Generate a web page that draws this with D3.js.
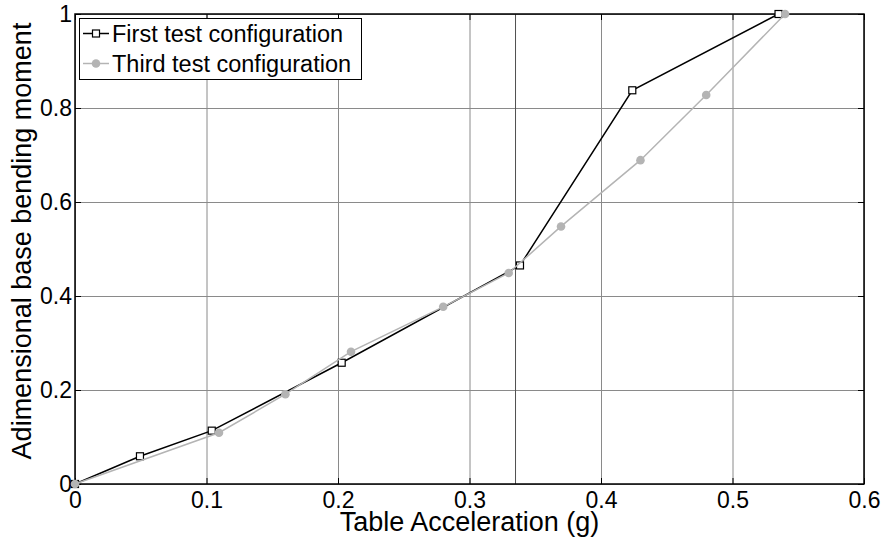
<!DOCTYPE html>
<html lang="en">
    <head>
        <meta charset="utf-8">
        <title>Base bending moment vs table acceleration</title>
        <script type="text/javascript" src="https://cdn.jsdelivr.net/npm/d3@7/dist/d3.min.js"></script>
        <style type="text/css">
            body { margin: 0; background: #fff; }
            svg { display: block; font-family: "Liberation Sans", Arial, sans-serif; }
            .grid line { stroke: #8a8a8a; stroke-width: 1; }
            .grid path { display: none; }
            .axis path { display: none; }
            .axis line { stroke: #000; }
            .axis text { font-size: 23px; fill: #000; }
        </style>
    </head>
    <body>
        <script type="text/javascript">
            //Chart size
            var w = 883;
            var h = 542;
            var margin = {top: 14, right: 19, bottom: 58, left: 75};

            //Data
            var firstX = [0, 0.0494, 0.104, 0.2028, 0.3384, 0.4238, 0.535];
            var firstY = [0, 0.059, 0.1135, 0.258, 0.465, 0.8377, 1];
            var thirdX = [0, 0.1095, 0.160, 0.2099, 0.280, 0.3298, 0.3696, 0.430, 0.480, 0.540];
            var thirdY = [0, 0.109, 0.191, 0.2815, 0.377, 0.449, 0.548, 0.689, 0.8277, 1];
            var xTicks = [0, 0.1, 0.2, 0.3, 0.4, 0.5, 0.6];
            var yTicks = [0, 0.2, 0.4, 0.6, 0.8, 1];
            var extraLineX = 0.335; //the darker vertical line
            var seriesNames = ["First test configuration", "Third test configuration"];

            var first = firstX.map(function(x, i) { return [x, firstY[i]]; });
            var third = thirdX.map(function(x, i) { return [x, thirdY[i]]; });

            var svg = d3.select("body")
                        .append("svg")
                        .attr("width", w)
                        .attr("height", h);

            //Scales
            var xScale = d3.scaleLinear()
                            .domain([0, 0.6])
                            .range([margin.left, w - margin.right]);
            var yScale = d3.scaleLinear()
                            .domain([0, 1])
                            .range([h - margin.bottom, margin.top]);

            var fmt = function(d) { return String(+d.toFixed(1)); };

            //Grid lines
            svg.append("g")
                .attr("class", "grid")
                .attr("transform", "translate(0," + yScale(0) + ")")
                .call(d3.axisBottom(xScale).tickValues(xTicks).tickSize(-(yScale(0) - yScale(1))).tickFormat(""));
            svg.append("g")
                .attr("class", "grid")
                .attr("transform", "translate(" + xScale(0) + ",0)")
                .call(d3.axisLeft(yScale).tickValues(yTicks).tickSize(-(xScale(0.6) - xScale(0))).tickFormat(""));

            //Extra darker vertical line
            svg.append("line")
                .attr("x1", xScale(extraLineX))
                .attr("x2", xScale(extraLineX))
                .attr("y1", yScale(0))
                .attr("y2", yScale(1))
                .attr("stroke", "#505050")
                .attr("stroke-width", 1);

            //Axes with inward ticks
            svg.append("g")
                .attr("class", "axis")
                .attr("transform", "translate(0," + yScale(0) + ")")
                .call(d3.axisBottom(xScale).tickValues(xTicks).tickSizeInner(-6).tickSizeOuter(0).tickPadding(8).tickFormat(fmt));
            svg.append("g")
                .attr("class", "axis")
                .attr("transform", "translate(0," + yScale(1) + ")")
                .call(d3.axisTop(xScale).tickValues(xTicks).tickSizeInner(-6).tickSizeOuter(0).tickFormat(""));
            svg.append("g")
                .attr("class", "axis")
                .attr("transform", "translate(" + xScale(0) + ",0)")
                .call(d3.axisLeft(yScale).tickValues(yTicks).tickSizeInner(-6).tickSizeOuter(0).tickPadding(3).tickFormat(fmt));
            svg.append("g")
                .attr("class", "axis")
                .attr("transform", "translate(" + xScale(0.6) + ",0)")
                .call(d3.axisRight(yScale).tickValues(yTicks).tickSizeInner(-6).tickSizeOuter(0).tickFormat(""));

            //Box
            svg.append("rect")
                .attr("x", xScale(0))
                .attr("y", yScale(1))
                .attr("width", xScale(0.6) - xScale(0))
                .attr("height", yScale(0) - yScale(1))
                .attr("fill", "none")
                .attr("stroke", "#000")
                .attr("stroke-width", 1.5);

            var line = d3.line()
                        .x(function(d) { return xScale(d[0]); })
                        .y(function(d) { return yScale(d[1]); });

            //First configuration: black line with squares
            svg.append("path")
                .datum(first)
                .attr("d", line)
                .attr("fill", "none")
                .attr("stroke", "#000")
                .attr("stroke-width", 1.5);
            svg.selectAll("rect.sq")
                .data(first)
                .enter()
                .append("rect")
                .attr("class", "sq")
                .attr("x", function(d) { return xScale(d[0]) - 3.5; })
                .attr("y", function(d) { return yScale(d[1]) - 3.5; })
                .attr("width", 7)
                .attr("height", 7)
                .attr("fill", "#fff")
                .attr("stroke", "#000")
                .attr("stroke-width", 1.2);

            //Third configuration: gray line with dots
            svg.append("path")
                .datum(third)
                .attr("d", line)
                .attr("fill", "none")
                .attr("stroke", "#b4b4b4")
                .attr("stroke-width", 1.5);
            svg.selectAll("circle.dot")
                .data(third)
                .enter()
                .append("circle")
                .attr("class", "dot")
                .attr("cx", function(d) { return xScale(d[0]); })
                .attr("cy", function(d) { return yScale(d[1]); })
                .attr("r", 4.3)
                .attr("fill", "#b4b4b4");

            //Axis labels
            svg.append("text")
                .attr("x", (xScale(0) + xScale(0.6)) / 2)
                .attr("y", 531)
                .attr("text-anchor", "middle")
                .attr("font-size", "27px")
                .text("Table Acceleration (g)");
            svg.append("text")
                .attr("transform", "translate(31,241) rotate(-90)")
                .attr("text-anchor", "middle")
                .attr("font-size", "27px")
                .text("Adimensional base bending moment");

            //Legend
            var legend = svg.append("g");
            legend.append("rect")
                .attr("x", 79.5)
                .attr("y", 18.5)
                .attr("width", 282)
                .attr("height", 61)
                .attr("fill", "#fff")
                .attr("stroke", "#000")
                .attr("stroke-width", 1);
            var rowY = [33.5, 63.5];
            seriesNames.forEach(function(name, i) {
                legend.append("line")
                    .attr("x1", 83).attr("x2", 109)
                    .attr("y1", rowY[i]).attr("y2", rowY[i])
                    .attr("stroke", i === 0 ? "#000" : "#b4b4b4")
                    .attr("stroke-width", 1.5);
                if (i === 0) {
                    legend.append("rect")
                        .attr("x", 96 - 3.5).attr("y", rowY[i] - 3.5)
                        .attr("width", 7).attr("height", 7)
                        .attr("fill", "#fff").attr("stroke", "#000").attr("stroke-width", 1.2);
                } else {
                    legend.append("circle")
                        .attr("cx", 96).attr("cy", rowY[i]).attr("r", 4.3)
                        .attr("fill", "#b4b4b4");
                }
                legend.append("text")
                    .attr("x", 112)
                    .attr("y", rowY[i])
                    .attr("dy", "0.35em")
                    .attr("font-size", "23.5px")
                    .text(name);
            });
        </script>
    </body>
</html>
